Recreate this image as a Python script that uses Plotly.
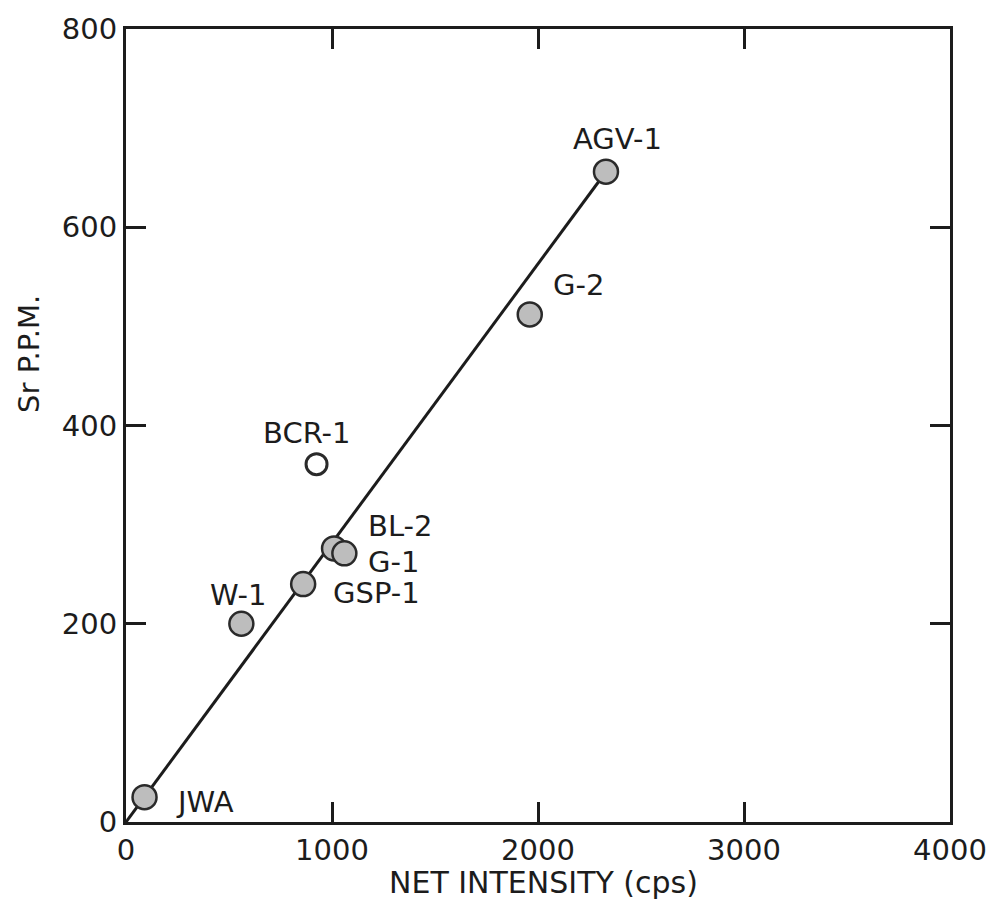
import plotly.graph_objects as go

# Data
sample_names = ["JWA", "W-1", "GSP-1", "BL-2", "G-1", "G-2", "AGV-1"]
net_intensity = [90, 560, 860, 1010, 1060, 1960, 2330]
sr_ppm = [25, 200, 240, 276, 271, 512, 656]

open_name = ["BCR-1"]
open_intensity = [925]
open_sr = [361]

fit_x = [0, 2330]
fit_y = [0, 656]

# Label placements (data coords)
label_text = ["JWA", "W-1", "GSP-1", "BL-2", "G-1", "BCR-1", "G-2", "AGV-1"]
label_x = [385, 545, 1215, 1330, 1300, 880, 2195, 2385]
label_y = [20, 229, 231, 299, 262, 392, 542, 689]

x_ticks = [0, 1000, 2000, 3000, 4000]
y_ticks = [0, 200, 400, 600, 800]

FONT = "DejaVu Sans"
INK = "#1c1c1c"

fig = go.Figure()

fig.add_trace(go.Scatter(
    x=fit_x, y=fit_y, mode="lines",
    line=dict(color=INK, width=3), showlegend=False, hoverinfo="skip"))

fig.add_trace(go.Scatter(
    x=net_intensity, y=sr_ppm, mode="markers",
    marker=dict(size=24, color="#bdbdbd", line=dict(color="#2a2a2a", width=2.5)),
    text=sample_names, showlegend=False))

fig.add_trace(go.Scatter(
    x=open_intensity, y=open_sr, mode="markers",
    marker=dict(size=21, color="white", line=dict(color="#2a2a2a", width=3)),
    text=open_name, showlegend=False))

for t, x, y in zip(label_text, label_x, label_y):
    fig.add_annotation(x=x, y=y, text=t, showarrow=False, xanchor="center",
                       yanchor="middle", font=dict(family=FONT, size=29, color=INK))

fig.add_annotation(xref="paper", yref="paper", x=-0.118, y=0.59, text="Sr P.P.M.",
                   textangle=-90, showarrow=False, xanchor="center", yanchor="middle",
                   font=dict(family=FONT, size=29, color=INK))
fig.add_annotation(xref="paper", yref="paper", x=0.507, y=-0.076, text="NET INTENSITY (cps)",
                   showarrow=False, xanchor="center", yanchor="middle",
                   font=dict(family=FONT, size=30, color=INK))

axis_common = dict(
    showline=True, linecolor=INK, linewidth=3, mirror="ticks",
    ticks="inside", ticklen=20, tickwidth=2.5, tickcolor=INK,
    showgrid=False, zeroline=False,
    tickfont=dict(family=FONT, size=29, color=INK),
)

fig.update_xaxes(range=[0, 4000], tickvals=x_ticks,
                 ticktext=[str(v) for v in x_ticks], ticklabelstandoff=0, **axis_common)
fig.update_yaxes(range=[0, 800], tickvals=y_ticks,
                 ticktext=[str(v) for v in y_ticks], ticklabelstandoff=0, **axis_common)

fig.update_layout(
    width=999, height=908,
    margin=dict(l=126, r=49, t=25, b=86),
    paper_bgcolor="white", plot_bgcolor="white",
    font=dict(family=FONT, color=INK),
)

fig.write_html("out.html")
